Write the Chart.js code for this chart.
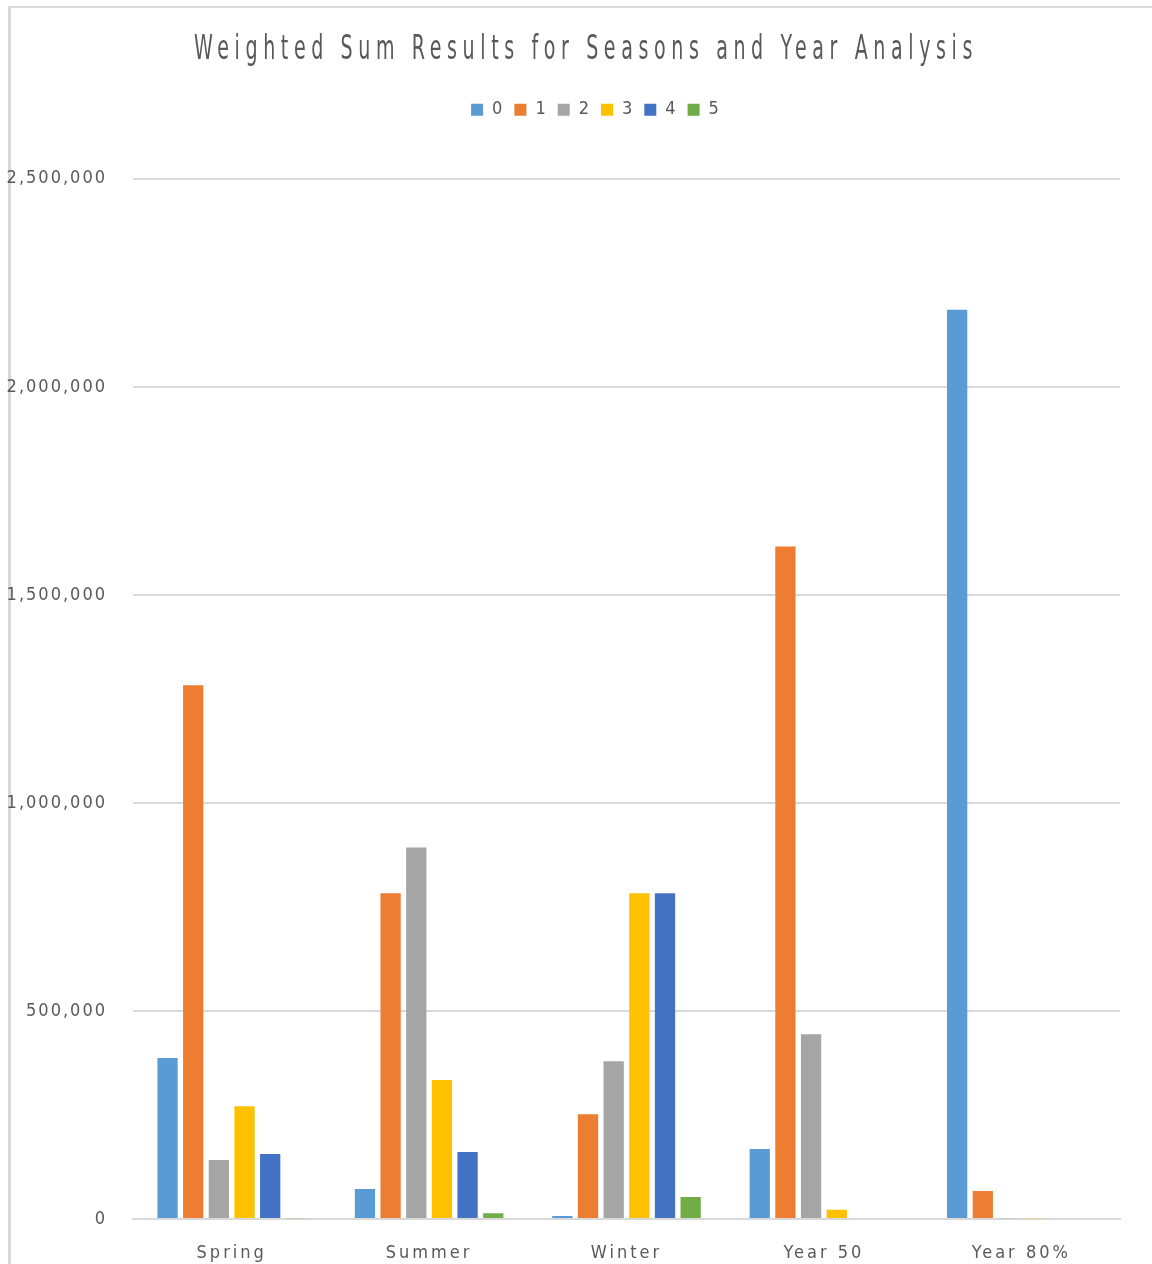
<!DOCTYPE html>
<html lang="en">
<head>
    <meta charset="UTF-8">
    <title>Weighted Sum Results for Seasons and Year Analysis</title>
    <script src="https://cdn.jsdelivr.net/npm/chart.js"></script>
    <style>
        body {
            margin: 0;
            background-color: #ffffff;
        }
        .frame {
            position: absolute;
            left: 8px;
            top: 6px;
            width: 1144px;
            height: 1258px;
            border-left: 3px solid #d9d9d9;
            border-top: 2px solid #d9d9d9;
        }
        .wrap {
            position: absolute;
            left: 0;
            top: 0;
            width: 1152px;
            height: 1264px;
        }
    </style>
</head>
<body>
    <div class="frame"></div>
    <div class="wrap">
        <canvas id="sumChart" width="1152" height="1264"></canvas>
    </div>

    <script>
        // data
        var categories = ['Spring', 'Summer', 'Winter', 'Year 50', 'Year 80%'];
        var seriesNames = ['0', '1', '2', '3', '4', '5'];
        var series0 = [387000, 72000, 7000, 168000, 2185000];
        var series1 = [1283000, 783000, 252000, 1616000, 67000];
        var series2 = [142000, 893000, 379000, 444000, 2000];
        var series3 = [271000, 334000, 783000, 22000, 2000];
        var series4 = [156000, 161000, 783000, 0, 0];
        var series5 = [2000, 14000, 53000, 0, 0];
        var colors = ['#5B9BD5', '#ED7D31', '#A5A5A5', '#FFC000', '#4472C4', '#70AD47'];
        var yTicks = [0, 500000, 1000000, 1500000, 2000000, 2500000];

        var allSeries = [series0, series1, series2, series3, series4, series5];
        var fontFamily = '"DejaVu Sans Condensed", "DejaVu Sans", sans-serif';
        var textColor = '#595959';

        // spaced-out (and for the title, squeezed) lettering like the original
        function spaced(obj, method, px, opts) {
            if (!obj || obj['_sp_' + method]) return;
            obj['_sp_' + method] = true;
            var orig = obj[method];
            obj[method] = function () {
                var ctx = this.ctx;
                ctx.save();
                ctx.letterSpacing = px;
                if (opts) {
                    var mid = (this.left + this.right) / 2;
                    ctx.translate(opts.center, 0);
                    ctx.scale(opts.sx, 1);
                    ctx.translate(-mid, 0);
                }
                orig.apply(this, arguments);
                ctx.restore();
            };
        }

        var spacingPlugin = {
            id: 'spacing',
            beforeLayout: function (chart) {
                var lg = chart.legend;
                if (lg && !lg._padded) {
                    lg._padded = true;
                    var fit = lg.fit;
                    lg.fit = function () {
                        fit.apply(this, arguments);
                        this.height += 50;
                    };
                }
            },
            beforeDraw: function (chart) {
                spaced(chart.titleBlock, 'draw', '9px', { center: 586, sx: 0.70 });
                spaced(chart.legend, 'draw', '2px', { center: 590, sx: 1 });
                spaced(chart.scales.x, 'drawLabels', '3px');
                spaced(chart.scales.y, 'drawLabels', '2px');
            }
        };

        var ctx = document.getElementById('sumChart').getContext('2d');
        var sumChart = new Chart(ctx, {
            type: 'bar',
            data: {
                labels: categories,
                datasets: allSeries.map(function (vals, i) {
                    return {
                        label: seriesNames[i],
                        data: vals,
                        backgroundColor: colors[i],
                        borderWidth: 0,
                        categoryPercentage: 0.78,
                        barPercentage: 0.79
                    };
                })
            },
            options: {
                responsive: false,
                animation: false,
                layout: {
                    padding: { top: 30, right: 32, left: 0, bottom: 0 }
                },
                plugins: {
                    title: {
                        display: true,
                        text: 'Weighted Sum Results for Seasons and Year Analysis',
                        color: textColor,
                        font: { family: fontFamily, size: 34, weight: 'normal' },
                        padding: { top: 0, bottom: 20 }
                    },
                    legend: {
                        position: 'top',
                        labels: {
                            color: textColor,
                            font: { family: fontFamily, size: 18 },
                            boxWidth: 12,
                            boxHeight: 12,
                            padding: 10
                        }
                    },
                    tooltip: { enabled: false }
                },
                scales: {
                    x: {
                        afterFit: function (scale) { scale.height = 45; },
                        grid: { display: false, drawTicks: false },
                        border: { display: true, color: '#d9d9d9', width: 2 },
                        ticks: {
                            color: textColor,
                            font: { family: fontFamily, size: 18 },
                            padding: 24,
                            maxRotation: 0
                        }
                    },
                    y: {
                        min: 0,
                        max: 2500000,
                        afterFit: function (scale) { scale.width = 133; },
                        afterBuildTicks: function (scale) {
                            scale.ticks = yTicks.map(function (v) { return { value: v }; });
                        },
                        grid: { color: '#d9d9d9', lineWidth: 2, drawTicks: false },
                        border: { display: false },
                        ticks: {
                            color: textColor,
                            font: { family: fontFamily, size: 18 },
                            padding: 26,
                            callback: function (v) { return v.toLocaleString('en-US'); }
                        }
                    }
                }
            },
            plugins: [spacingPlugin]
        });
    </script>
</body>
</html>
